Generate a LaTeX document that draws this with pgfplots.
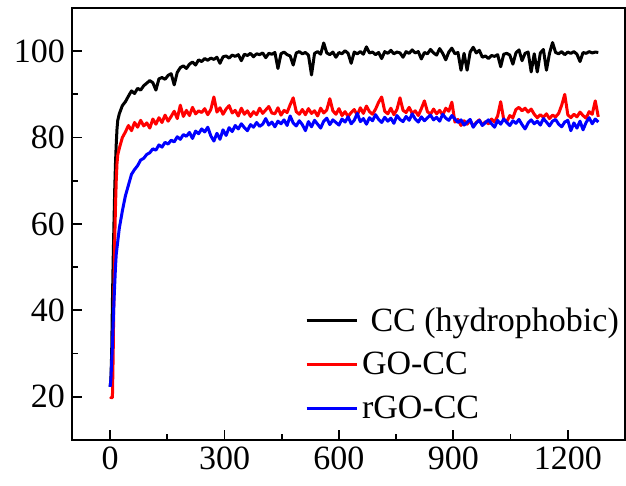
\documentclass[border=0pt]{standalone}
\usepackage{pgfplots}
\pgfplotsset{compat=1.18}
\usepackage{fontspec}
\setmainfont{Liberation Serif}
\pgfplotstableread{
t v
0 22.3
2 24
4 30
6 42
8 52
10 60
12 68
14 74
16 78.5
18 82
20 84
24 85.5
32 87.4
40 88.3
48 89.6
56 90.8
64 90.2
72 91.4
80 91.0
88 92.0
96 92.6
104 93.2
112 92.7
120 91.0
128 93.6
136 93.9
144 93.5
152 94.4
160 94.8
168 92.2
176 95.1
184 96.2
192 96.6
200 96.0
208 97.0
216 97.5
224 96.8
232 98.0
240 97.6
248 98.3
256 97.9
264 98.4
272 98.1
280 98.6
288 97.2
296 98.7
304 98.9
312 98.4
320 99.1
328 98.8
336 99.2
344 97.8
352 99.3
360 99.0
368 99.5
376 98.7
384 99.4
392 99.2
400 99.6
408 98.5
416 99.5
424 99.3
432 99.7
440 96.0
448 99.4
456 99.8
464 99.2
472 98.9
480 96.8
488 99.6
496 99.9
504 99.4
512 99.7
520 99.1
528 94.5
536 99.5
544 99.9
552 99.3
560 101.9
568 99.6
576 99.2
584 99.8
592 98.6
600 99.7
608 99.4
616 100.1
624 99.5
632 97.2
640 99.8
648 99.4
656 99.9
664 99.3
672 101.0
680 99.6
688 99.8
696 99.2
704 99.7
712 98.3
720 99.9
728 99.5
736 100.2
744 99.4
752 99.8
760 99.6
768 98.6
776 99.9
784 99.5
792 100.3
800 99.6
808 99.9
816 98.2
824 99.7
832 99.4
840 100.4
848 99.6
856 99.1
864 100.6
872 99.5
880 98.0
888 99.8
896 100.7
904 99.4
912 99.7
920 95.6
928 99.5
936 95.6
944 99.8
952 100.9
960 99.6
968 100.2
976 98.6
984 98.9
992 98.3
1000 99.0
1008 98.8
1016 99.2
1024 96.4
1032 99.3
1040 99.5
1048 99.1
1056 97.0
1064 99.6
1072 100.3
1080 97.8
1088 99.5
1096 99.8
1104 95.2
1112 99.4
1120 95.2
1128 99.6
1136 100.4
1144 95.6
1152 99.5
1160 102.0
1168 99.7
1176 99.4
1184 99.9
1192 99.2
1200 99.8
1208 99.5
1216 99.9
1224 99.3
1232 97.6
1240 99.7
1248 99.5
1256 99.9
1264 99.6
1272 99.8
1280 99.7
}\cc
\pgfplotstableread{
t v
0 20.0
3 19.8
6 19.8
8 30
10 45
12 56
14 64
16 70
18 74
20 76
24 77.5
32 80.0
40 81.3
48 82.8
56 81.6
64 83.5
72 82.4
80 84.0
88 82.7
96 83.4
104 82.2
112 84.3
120 83.1
128 84.6
136 83.5
144 85.2
152 83.8
160 84.9
168 86.1
176 84.4
184 87.5
192 84.9
200 86.3
208 85.1
216 87.0
224 85.5
232 86.2
240 85.8
248 86.7
256 85.3
264 86.5
272 89.4
280 85.9
288 86.9
296 85.4
304 86.6
312 87.4
320 85.7
328 86.3
336 85.0
344 86.8
352 85.4
360 86.2
368 84.9
376 86.0
384 85.3
392 86.8
400 85.6
408 86.4
416 87.2
424 85.7
432 85.5
440 86.9
448 85.2
456 86.3
464 85.8
472 87.6
480 89.2
488 86.0
496 85.4
504 86.5
512 85.3
520 86.7
528 85.6
536 86.2
544 85.0
552 86.8
560 85.7
568 86.4
576 89.0
584 86.2
592 85.4
600 86.7
608 85.1
616 86.0
624 84.9
632 85.8
640 86.5
648 85.2
656 86.9
664 85.6
672 87.3
680 86.0
688 85.4
696 86.6
704 88.2
712 89.4
720 86.1
728 85.5
736 86.8
744 85.3
752 86.5
760 89.2
768 86.3
776 85.8
784 87.0
792 85.6
800 86.2
808 85.1
816 86.7
824 88.5
832 86.0
840 85.4
848 86.6
856 85.5
864 86.3
872 85.2
880 86.8
888 86.1
896 88.2
904 83.6
912 84.2
920 82.8
928 83.9
936 83.1
944 84.0
952 82.6
960 83.5
968 84.1
976 82.9
984 83.7
992 83.2
1000 84.3
1008 83.6
1016 85.0
1024 88.3
1032 84.2
1040 83.7
1048 85.1
1056 84.6
1064 86.5
1072 87.0
1080 86.2
1088 86.8
1096 85.9
1104 86.6
1112 85.4
1120 84.6
1128 85.3
1136 84.7
1144 85.5
1152 84.4
1160 85.2
1168 84.8
1176 85.6
1184 87.5
1192 90.0
1200 85.3
1208 84.6
1216 85.4
1224 84.8
1232 85.9
1240 85.1
1248 84.5
1256 86.0
1264 85.4
1272 88.5
1280 84.8
}\gocc
\pgfplotstableread{
t v
0 22.3
2 24
4 28
6 32
8 37
10 42
12 46
14 50
16 53
20 56
24 59
32 63
40 66.5
48 69
56 71.5
64 72.6
72 73.5
80 74.8
88 75.2
96 76.1
104 76.5
112 77.4
120 77.1
128 78.3
136 77.8
144 78.9
152 78.5
160 79.4
168 79.0
176 80.2
184 79.6
192 80.7
200 80.3
208 81.2
216 79.8
224 81.5
232 80.9
240 82.0
248 81.3
256 82.4
264 80.4
272 79.2
280 81.0
288 79.6
296 81.8
304 80.5
312 82.3
320 81.4
328 82.8
336 82.0
344 83.2
352 82.3
360 81.6
368 83.0
376 82.4
384 83.5
392 82.6
400 83.1
408 84.4
416 82.9
424 83.6
432 82.5
440 83.8
448 83.2
456 84.1
464 82.8
472 85.0
480 83.4
488 82.7
496 83.9
504 83.0
512 81.6
520 83.7
528 82.5
536 84.0
544 83.1
552 82.2
560 83.8
568 84.5
576 83.0
584 84.1
592 83.5
600 82.9
608 84.3
616 83.6
624 84.8
632 83.2
640 84.0
648 85.6
656 83.7
664 84.4
672 83.1
680 84.6
688 83.9
696 85.3
704 84.2
712 83.5
720 84.7
728 83.8
736 84.5
744 83.3
752 85.1
760 84.2
768 83.7
776 84.9
784 84.0
792 85.5
800 84.3
808 83.6
816 84.8
824 83.9
832 84.6
840 85.2
848 84.1
856 84.7
864 83.8
872 85.4
880 84.5
888 84.0
896 85.1
904 84.3
912 83.5
920 84.1
928 82.9
936 83.6
944 84.2
952 82.4
960 83.4
968 84.0
976 82.8
984 83.5
992 84.1
1000 83.2
1008 82.4
1016 84.0
1024 83.1
1032 84.3
1040 83.5
1048 82.8
1056 83.9
1064 83.3
1072 84.2
1080 83.0
1088 82.0
1096 83.4
1104 84.1
1112 83.2
1120 83.8
1128 82.9
1136 84.4
1144 83.6
1152 82.7
1160 83.8
1168 84.2
1176 83.1
1184 82.5
1192 83.6
1200 84.0
1208 81.6
1216 83.4
1224 82.2
1232 83.8
1240 81.8
1248 83.5
1256 84.6
1264 83.2
1272 84.3
1280 83.6
}\rgocc
\begin{document}
\begin{tikzpicture}
\begin{axis}[
  scale only axis,
  width=276.5pt, height=216pt,
  xmin=-100, xmax=1350, ymin=10, ymax=110,
  xtick={0,300,600,900,1200},
  minor xtick={150,450,750,1050},
  ytick={20,40,60,80,100},
  minor ytick={30,50,70,90},
  tick pos=left,
  tick align=inside,
  major tick length=5pt,
  minor tick length=3pt,
  axis line style={line width=1pt},
  every tick/.style={line width=0.9pt, black},
  tick label style={font=\fontsize{17}{20}\selectfont},
  /pgf/number format/assume math mode=true,
  /pgf/number format/1000 sep={},
  legend style={draw=none, fill=none, at={(rel axis cs:0.421,0.317)}, anchor=north west,
    font=\fontsize{17}{20}\selectfont, row sep=5pt, inner sep=0pt},
  legend cell align=left,
  legend image code/.code={\draw[#1, line width=1.4pt] (0pt,0pt) -- (25pt,0pt);},
  every axis plot/.append style={line width=1.5pt, line join=round},
]
\addplot[black] table[x=t,y=v] {\cc};
\addplot[red] table[x=t,y=v] {\gocc};
\addplot[blue] table[x=t,y=v] {\rgocc};
\legend{\ CC (hydrophobic), GO-CC, rGO-CC}
\end{axis}
\pgfresetboundingbox
\path (current axis.south west) ++(-36pt,-23pt) rectangle ([xshift=0.5pt,yshift=4pt]current axis.north east);
\end{tikzpicture}
\end{document}
